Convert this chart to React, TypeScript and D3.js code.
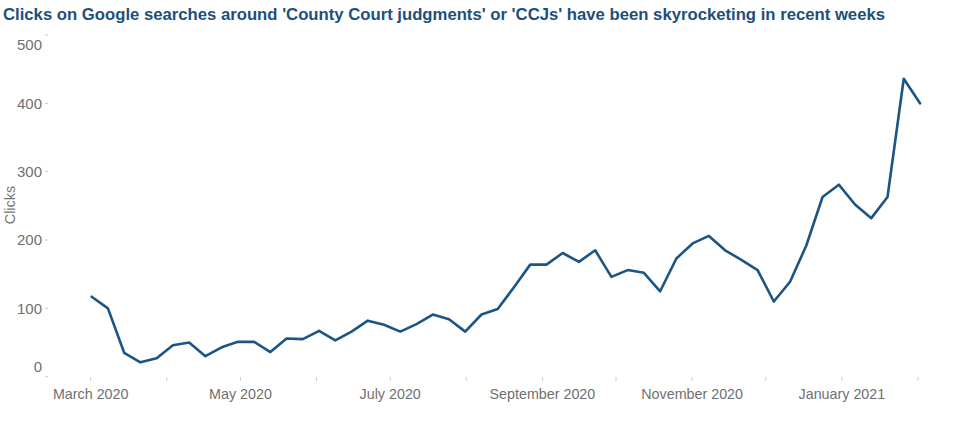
import React from "react";
import * as d3 from "d3";

const TITLE = "Clicks on Google searches around 'County Court judgments' or 'CCJs' have been skyrocketing in recent weeks";
const Y_TITLE = "Clicks";
const clicks: number[] = [
  117, 100, 35, 21, 27, 46, 50, 30, 43, 51,
  51, 36, 56, 55, 67, 53, 66, 82, 76, 66,
  77, 91, 84, 66, 91, 99, 131, 164, 164, 181,
  168, 185, 146, 156, 152, 125, 173, 195, 206, 185,
  171, 156, 110, 139, 192, 263, 281, 252, 232, 263,
  436, 400,
];
const yTicks: number[] = [0, 100, 200, 300, 400, 500];
const monthStart = new Date(2020, 2, 1);
const monthEnd = new Date(2021, 1, 1);

export default function App() {
  const W = 960, H = 439;
  const xTime = d3.scaleTime().domain([monthStart, monthEnd]).range([90.7, 918]);
  const xIdx = d3.scaleLinear().domain([0, clicks.length - 1]).range([91.7, 920]);
  const y = d3.scaleLinear().domain([0, 500]).range([376.7, 35]);
  const months = d3.timeMonth.range(monthStart, d3.timeMonth.offset(monthEnd, 1));
  const fmt = d3.timeFormat("%B %Y");
  const line = d3.line<number>().x((_, i) => xIdx(i)).y((d) => y(d));
  const font = "'Liberation Sans', Arial, sans-serif";
  return (
    <svg width={W} height={H} style={{ position: "absolute", left: 0, top: 0, background: "#fff" }} fontFamily={font}>
      <text x={3} y={19.5} fontSize={17} fontWeight="bold" fill="#1d4f7c" textLength={882} lengthAdjust="spacingAndGlyphs">{TITLE}</text>
      <text transform={`translate(15,205) rotate(-90)`} textAnchor="middle" fontSize={14.5} fill="#777">{Y_TITLE}</text>
      {yTicks.map((t) => {
        const ty = y(t);
        const ly = t === 500 ? ty + 10 : t === 0 ? ty - 10 : ty;
        return (
          <g key={t}>
            <line x1={45} x2={48} y1={ty} y2={ty} stroke="#ccc" strokeWidth={1} />
            <text x={42} y={ly} dy="0.36em" textAnchor="end" fontSize={15} fill="#707070">{t}</text>
          </g>
        );
      })}
      {months.map((m, i) => (
        <g key={i}>
          <line x1={xTime(m)} x2={xTime(m)} y1={377} y2={381} stroke="#ccc" strokeWidth={1} />
          {i % 2 === 0 ? (
            <text x={xTime(m)} y={393.5} dy="0.36em" textAnchor="middle" fontSize={14.3} fill="#707070">{fmt(m)}</text>
          ) : null}
        </g>
      ))}
      <path d={line(clicks) || ""} fill="none" stroke="#1b5585" strokeWidth={2.6} strokeLinejoin="round" strokeLinecap="round" />
    </svg>
  );
}
